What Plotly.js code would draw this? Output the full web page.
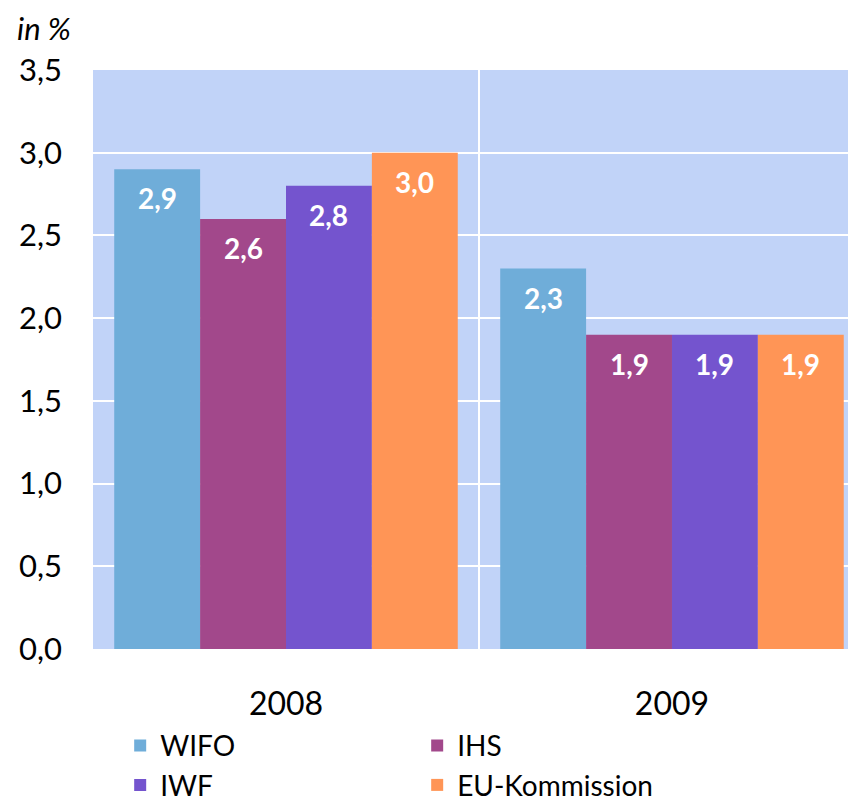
<!DOCTYPE html>
<html>
<head>
<meta charset="utf-8">
<script src="https://cdn.plot.ly/plotly-3.0.1.min.js"></script>
<style>html,body{margin:0;padding:0;background:#fff;}</style>
</head>
<body>
<div id="chart" style="width:848px;height:803px;"></div>
<script>
const categories = ["2008", "2009"];
const seriesNames = ["WIFO", "IHS", "IWF", "EU-Kommission"];
const wifo = [2.9, 2.3];
const ihs = [2.6, 1.9];
const iwf = [2.8, 1.9];
const euKommission = [3.0, 1.9];
const yTicks = [0, 0.5, 1.0, 1.5, 2.0, 2.5, 3.0, 3.5];

const seriesValues = [wifo, ihs, iwf, euKommission];
const colors = ["#6FADD9", "#A2488B", "#7454CE", "#FF9556"];
const FONT = "Lato, 'Open Sans', sans-serif";

const traces = seriesValues.map((vals, i) => ({
  type: "bar",
  name: seriesNames[i],
  x: [0, 1],
  y: vals,
  marker: {color: colors[i], line: {width: 0}},
  hoverinfo: "skip"
}));

const bargap = 0.11;
const barW = (1 - bargap) / seriesValues.length;
const annotations = [];
seriesValues.forEach((vals, i) => {
  vals.forEach((v, j) => {
    annotations.push({
      x: j + (i - (seriesValues.length - 1) / 2) * barW,
      y: v, xref: "x", yref: "y",
      text: v.toFixed(1).replace(".", ","),
      showarrow: false, yanchor: "middle", yshift: -29,
      font: {family: FONT, size: 28, color: "#ffffff", weight: "bold"}
    });
  });
});
annotations.push({
  xref: "paper", yref: "paper", x: -0.103, y: 1, yshift: 42,
  xanchor: "left", yanchor: "middle",
  text: "<i>in %</i>", showarrow: false,
  font: {family: FONT, size: 31, color: "#000"}
});

const layout = {
  width: 848, height: 803,
  margin: {l: 93, r: 0, t: 70, b: 154, autoexpand: false},
  paper_bgcolor: "#ffffff",
  plot_bgcolor: "#C1D3F8",
  separators: ",.",
  barmode: "group",
  bargap: bargap,
  bargroupgap: 0,
  showlegend: true,
  legend: {
    orientation: "h", x: 0.036, xanchor: "left", y: -0.124, yanchor: "top",
    font: {family: FONT, size: 28, color: "#000"},
    entrywidth: 252, traceorder: "normal",
    bgcolor: "rgba(0,0,0,0)"
  },
  xaxis: {
    range: [-0.5, 1.456], fixedrange: true,
    tickvals: [0, 1], ticktext: categories,
    showgrid: false, zeroline: false, showline: false, ticks: "",
    ticklabelstandoff: 33,
    tickfont: {family: FONT, size: 32, color: "#000"}
  },
  yaxis: {
    range: [0, 3.5], tickvals: yTicks, tickformat: ".1f",
    showgrid: true, gridcolor: "#ffffff", gridwidth: 2,
    zeroline: false, showline: false, ticks: "",
    ticklabelstandoff: 30,
    tickfont: {family: FONT, size: 31, color: "#000"}
  },
  shapes: [{
    type: "line", xref: "x", yref: "paper", x0: 0.5, x1: 0.5, y0: 0, y1: 1,
    line: {color: "#ffffff", width: 2}, layer: "below"
  }],
  annotations: annotations
};

Plotly.newPlot("chart", traces, layout, {displayModeBar: false, staticPlot: true});
</script>
</body>
</html>
